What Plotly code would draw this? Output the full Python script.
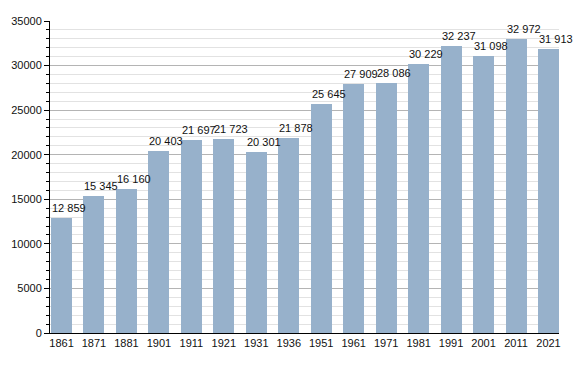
import plotly.graph_objects as go

years = ["1861", "1871", "1881", "1901", "1911", "1921", "1931", "1936",
         "1951", "1961", "1971", "1981", "1991", "2001", "2011", "2021"]
population = [12859, 15345, 16160, 20403, 21697, 21723, 20301, 21878,
              25645, 27909, 28086, 30229, 32237, 31098, 32972, 31913]
y_ticks = [0, 5000, 10000, 15000, 20000, 25000, 30000, 35000]

BAR_W = 0.647
FONT = "Liberation Sans, Arial, sans-serif"

xs = list(range(len(years)))

fig = go.Figure()
fig.add_trace(go.Bar(
    x=xs, y=population, width=BAR_W,
    marker=dict(color="#97b1cb", line=dict(width=0)),
    hoverinfo="skip",
))

for i, v in zip(xs, population):
    fig.add_annotation(
        x=i - BAR_W / 2, y=v, xref="x", yref="y",
        text=f"{v:,}".replace(",", " "),
        showarrow=False, xanchor="left", yanchor="bottom",
        xshift=-1, yshift=2,
        font=dict(family=FONT, size=11, color="#111"),
    )

# the page body has an 8px default margin, so the figure is drawn 8px in
fig.update_layout(
    width=580, height=365,
    margin=dict(l=42, r=29, t=13, b=40, pad=0, autoexpand=False),
    paper_bgcolor="white", plot_bgcolor="white",
    showlegend=False,
    font=dict(family=FONT, size=11, color="#111"),
    bargap=0,
)
fig.update_xaxes(
    range=[-BAR_W / 2 - 0.031, len(years) - 1 + BAR_W / 2],
    tickmode="array", tickvals=xs, ticktext=years,
    showgrid=False, zeroline=False,
    showline=True, linecolor="black", linewidth=1,
    ticks="", tickfont=dict(family=FONT, size=11, color="#111"),
    automargin=False, fixedrange=True,
)
fig.update_yaxes(
    range=[0, 35000],
    tickmode="array", tickvals=y_ticks, ticktext=[str(t) for t in y_ticks],
    showgrid=True, gridcolor="#b4b4b4", gridwidth=1,
    zeroline=False,
    showline=True, linecolor="black", linewidth=1,
    ticks="outside", ticklen=5, tickcolor="black", tickwidth=1,
    tickfont=dict(family=FONT, size=11, color="#111"),
    minor=dict(dtick=1000, tick0=0, showgrid=True, gridcolor="#e2e2e2",
               gridwidth=1, ticks="outside", ticklen=3, tickcolor="black"),
    automargin=False, fixedrange=True,
)

fig.write_html("out.html")
